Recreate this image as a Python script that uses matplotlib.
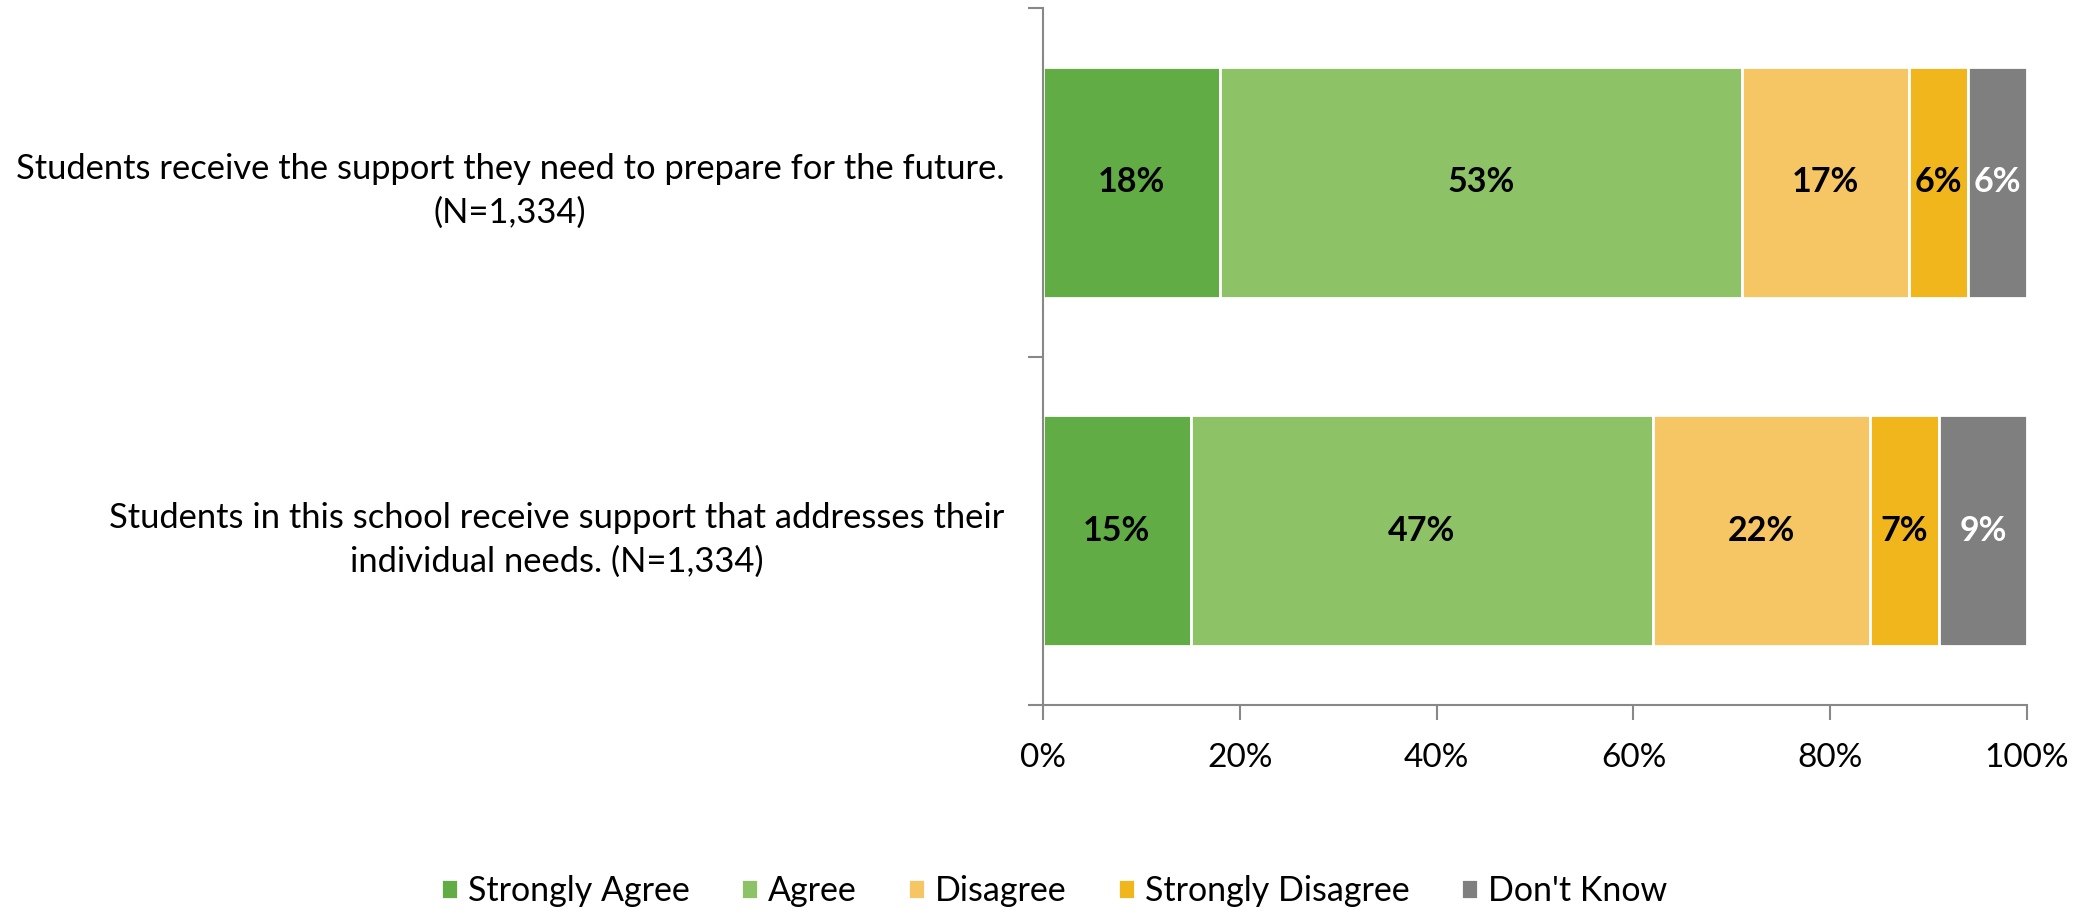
import numpy as np
import matplotlib
matplotlib.use("Agg")
import matplotlib.pyplot as plt

plt.rcParams['font.family'] = ['Lato', 'DejaVu Sans']

# Survey items (top to bottom) and response shares in percent
questions = [
    "Students receive the support they need to prepare for the future.\n(N=1,334)",
    "Students in this school receive support that addresses their\nindividual needs. (N=1,334)",
]
responses = ["Strongly Agree", "Agree", "Disagree", "Strongly Disagree", "Don't Know"]
strongly_agree = [18, 15]
agree = [53, 47]
disagree = [17, 22]
strongly_disagree = [6, 7]
dont_know = [6, 9]

colors = ["#62AC46", "#8DC366", "#F6C564", "#F2B61D", "#7F7F7F"]
label_colors = ["black", "black", "black", "black", "white"]

series = [strongly_agree, agree, disagree, strongly_disagree, dont_know]

fig = plt.figure(figsize=(20.87, 9.11), dpi=100)
ax = fig.add_axes([0.4998, 0.2261, 0.4715, 0.7651])

y = np.arange(len(questions))
left = np.zeros(len(questions))
for name, vals, col, lcol in zip(responses, series, colors, label_colors):
    vals = np.array(vals, dtype=float)
    bars = ax.barh(y, vals, left=left, height=0.663, color=col,
                   edgecolor="white", linewidth=2, label=name)
    for b, v in zip(bars, vals):
        ax.text(b.get_x() + b.get_width() / 2, b.get_y() + b.get_height() / 2,
                f"{v:.0f}%", ha="center", va="center", fontsize=24.5,
                fontweight="bold", color=lcol)
    left += vals

ax.set_xlim(0, 100)
ax.set_ylim(len(questions) - 0.5, -0.5)
ax.set_xticks(np.arange(0, 101, 20))
ax.set_xticklabels([f"{t}%" for t in range(0, 101, 20)], fontsize=24)
ax.set_yticks(y)
ax.set_yticklabels(questions, fontsize=24.8, multialignment="center", linespacing=1.45)
ax.tick_params(axis="y", length=0, pad=28)
ax.set_yticks(np.arange(-0.5, len(questions), 1.0), minor=True)
ax.tick_params(axis="y", which="minor", length=11, color="#888888", width=1.5)
ax.tick_params(axis="x", length=11, color="#888888", width=1.5, pad=16)

for s in ["top", "right"]:
    ax.spines[s].set_visible(False)
for s in ["left", "bottom"]:
    ax.spines[s].set_color("#888888")
    ax.spines[s].set_linewidth(1.5)

ax.legend(loc="center", bbox_to_anchor=(0.505, 0.022), bbox_transform=fig.transFigure,
          ncol=5, frameon=False, fontsize=24.5, handlelength=0.5, handleheight=0.5,
          columnspacing=1.5, handletextpad=0.3)

fig.savefig("out.png", dpi=100)
